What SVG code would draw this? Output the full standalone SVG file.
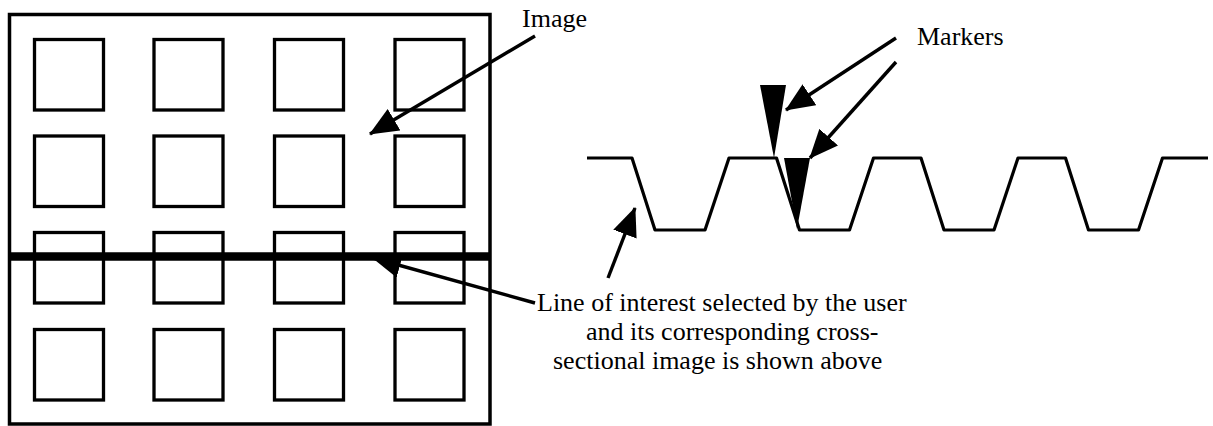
<svg xmlns="http://www.w3.org/2000/svg" width="1213" height="426" viewBox="0 0 1213 426">
<style>
.frame{fill:none;stroke:#000;stroke-width:3.5}
.cell{fill:none;stroke:#000;stroke-width:3.3}
.wave{fill:none;stroke:#000;stroke-width:3.2;stroke-linejoin:round}
.conn{fill:none;stroke:#000;stroke-width:3.4}
.lbl{font-family:"Liberation Serif","Times New Roman",serif;font-size:26px;fill:#000}
.mk{fill:#000}
</style>
<defs>
<marker id="ah" viewBox="0 0 29 25" refX="28" refY="12.5" markerWidth="29" markerHeight="25" markerUnits="userSpaceOnUse" orient="auto">
<path d="M0,0 L29,12.5 L0,25 z" fill="#000"/>
</marker>
</defs>
<g id="image-frame">
<rect class="frame" x="9.5" y="14.5" width="480.5" height="409.5"/>
</g>
<g id="cells">
<rect class="cell" x="34.5" y="39.5" width="69" height="70.5"/>
<rect class="cell" x="154" y="39.5" width="69" height="70.5"/>
<rect class="cell" x="274.5" y="39.5" width="69" height="70.5"/>
<rect class="cell" x="395" y="39.5" width="69" height="70.5"/>
<rect class="cell" x="34.5" y="136" width="69" height="70.5"/>
<rect class="cell" x="154" y="136" width="69" height="70.5"/>
<rect class="cell" x="274.5" y="136" width="69" height="70.5"/>
<rect class="cell" x="395" y="136" width="69" height="70.5"/>
<rect class="cell" x="34.5" y="232.5" width="69" height="70.5"/>
<rect class="cell" x="154" y="232.5" width="69" height="70.5"/>
<rect class="cell" x="274.5" y="232.5" width="69" height="70.5"/>
<rect class="cell" x="395" y="232.5" width="69" height="70.5"/>
<rect class="cell" x="34.5" y="329.5" width="69" height="70.5"/>
<rect class="cell" x="154" y="329.5" width="69" height="70.5"/>
<rect class="cell" x="274.5" y="329.5" width="69" height="70.5"/>
<rect class="cell" x="395" y="329.5" width="69" height="70.5"/>
</g>
<g id="line-of-interest">
<line x1="8" y1="256.5" x2="491" y2="256.5" stroke="#000" stroke-width="8.5"/>
</g>
<g id="cross-section">
<path class="wave" d="M587,158 H632 L655,230 H705 L729,158 H776.5 L799.5,230 H849.5 L873.5,158 H921 L944,230 H994 L1018,158 H1065.5 L1088.5,230 H1138.5 L1162.5,158 H1208"/>
</g>
<g id="markers">
<polygon class="mk" points="760,85 786,85 774,158"/>
<polygon class="mk" points="784,158 810,158 797,229"/>
</g>
<g id="connectors">
<line class="conn" x1="535" y1="36" x2="370" y2="134" marker-end="url(#ah)"/>
<line class="conn" x1="535" y1="303" x2="373" y2="258" marker-end="url(#ah)"/>
<line class="conn" x1="608" y1="278" x2="635" y2="208" marker-end="url(#ah)"/>
<line class="conn" x1="896" y1="38" x2="786" y2="110" marker-end="url(#ah)"/>
<line class="conn" x1="896" y1="62" x2="810" y2="158" marker-end="url(#ah)"/>
</g>
<g id="labels">
<text class="lbl" x="522" y="27">Image</text>
<text class="lbl" x="917" y="45">Markers</text>
<text class="lbl" x="537" y="311">Line of interest selected by the user</text>
<text class="lbl" x="586" y="340">and its corresponding cross-</text>
<text class="lbl" x="553" y="369">sectional image is shown above</text>
</g>
</svg>
